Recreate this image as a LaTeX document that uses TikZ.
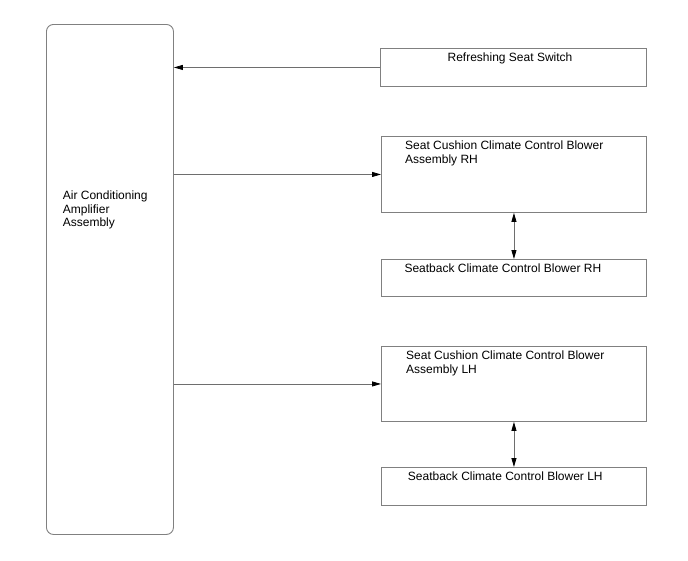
\documentclass[tikz,border=0pt]{standalone}
\usepackage{fontspec}
\setmainfont{Liberation Sans}
\usetikzlibrary{arrows.meta}
\definecolor{boxgray}{HTML}{808080}
\definecolor{linegray}{HTML}{6E6E6E}
\tikzset{
  box/.style={draw=boxgray, line width=0.9pt, inner sep=0pt, anchor=north west, fill=white},
  lbl/.style={inner sep=0pt, font=\fontsize{12}{13.7}\selectfont, align=left, text=black},
  arr/.style={draw=linegray, line width=0.8pt, -{Triangle[length=9pt,width=5pt,fill=black,color=black]}},
  arr2/.style={draw=linegray, line width=0.8pt, {Triangle[length=9pt,width=5pt,fill=black,color=black]}-{Triangle[length=9pt,width=5pt,fill=black,color=black]}}
}
\begin{document}
\begin{tikzpicture}[x=1pt,y=-1pt]
\useasboundingbox (0,0) rectangle (688,560);
% main block
\node[box, rounded corners=7pt, minimum width=127pt, minimum height=510pt] (ac) at (46,24) {};
\node[lbl, anchor=north west] (actxt) at (62.7,190.7) {Air Conditioning\\Amplifier\\Assembly};
% right blocks
\node[box, minimum width=266pt, minimum height=38pt] (rs) at (380,48) {};
\node[lbl, anchor=north] (rstxt) at (510,52.5) {Refreshing Seat Switch};
\node[box, minimum width=265pt, minimum height=76pt] (rh1) at (381,136) {};
\node[lbl, anchor=north west] (rh1txt) at (405,140.7) {Seat Cushion Climate Control Blower\\Assembly RH};
\node[box, minimum width=265pt, minimum height=37pt] (rh2) at (381,259) {};
\node[lbl, anchor=north west] (rh2txt) at (404.3,263.3) {Seatback Climate Control Blower RH};
\node[box, minimum width=265pt, minimum height=75pt] (lh1) at (381,346) {};
\node[lbl, anchor=north west] (lh1txt) at (406,350.7) {Seat Cushion Climate Control Blower\\Assembly LH};
\node[box, minimum width=265pt, minimum height=38pt] (lh2) at (381,467) {};
\node[lbl, anchor=north west] (lh2txt) at (407.7,472) {Seatback Climate Control Blower LH};
% connectors
\draw[arr] (rs.west) -- (rs.west -| ac.east);
\draw[arr] (rh1.west -| ac.east) -- (rh1.west);
\draw[arr] (lh1.west -| ac.east) -- (lh1.west);
\draw[arr2] (rh1.south) -- (rh2.north);
\draw[arr2] (lh1.south) -- (lh2.north);
\end{tikzpicture}
\end{document}
